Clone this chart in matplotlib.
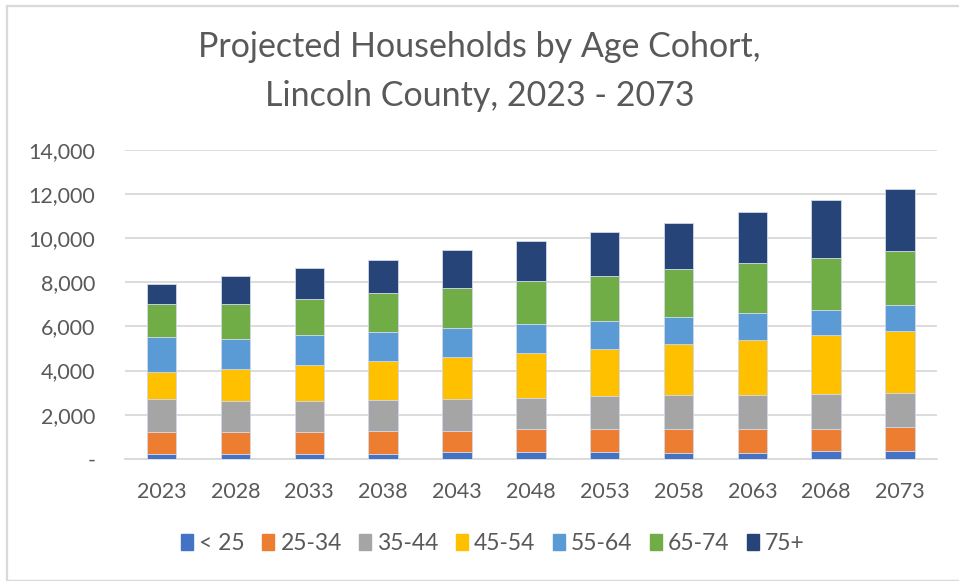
import matplotlib
matplotlib.use("Agg")
import matplotlib.pyplot as plt
import numpy as np
from matplotlib.lines import Line2D
from matplotlib.ticker import FuncFormatter

years = ["2023", "2028", "2033", "2038", "2043", "2048", "2053", "2058", "2063", "2068", "2073"]
cohorts = ["< 25", "25-34", "35-44", "45-54", "55-64", "65-74", "75+"]
colors = ["#4472C4", "#ED7D31", "#A5A5A5", "#FFC000", "#5B9BD5", "#70AD47", "#264478"]

under25 = [230, 230, 230, 230, 290, 290, 290, 260, 260, 330, 330]
age25_34 = [970, 970, 970, 1030, 970, 1045, 1045, 1105, 1105, 1030, 1090]
age35_44 = [1515, 1395, 1395, 1395, 1455, 1440, 1500, 1515, 1515, 1575, 1575]
age45_54 = [1210, 1470, 1650, 1760, 1895, 2015, 2120, 2305, 2485, 2665, 2790]
age55_64 = [1590, 1365, 1365, 1335, 1320, 1320, 1285, 1225, 1225, 1165, 1165]
age65_74 = [1500, 1590, 1650, 1760, 1820, 1940, 2045, 2180, 2290, 2350, 2470]
age75p = [910, 1275, 1395, 1515, 1695, 1820, 2000, 2105, 2300, 2605, 2790]

series = [under25, age25_34, age35_44, age45_54, age55_64, age65_74, age75p]

plt.rcParams['font.family'] = ['Lato', 'DejaVu Sans']
text_color = "#595959"

fig = plt.figure(figsize=(9.59, 5.81), dpi=100)
ax = fig.add_axes([0.130, 0.2105, 0.847, 0.5313])

x = np.arange(len(years))
bottom = np.zeros(len(years))
for name, vals, c in zip(cohorts, series, colors):
    ax.bar(x, vals, width=0.40, bottom=bottom, color=c, label=name,
           edgecolor="#d0d8e8", linewidth=0.6, zorder=3)
    bottom += np.array(vals)

ax.set_xlim(-0.5, len(years) - 0.5)
ax.set_ylim(0, 14000)
ax.set_yticks(np.arange(0, 14001, 2000))
ax.yaxis.set_major_formatter(FuncFormatter(lambda v, p: "-" if v == 0 else f"{int(v):,}"))
ax.set_xticks(x)
ax.set_xticklabels(years)
ax.grid(axis="y", color="#d9d9d9", linewidth=1.3, zorder=0)
for s in ["top", "right", "left"]:
    ax.spines[s].set_visible(False)
ax.spines["bottom"].set_color("#d9d9d9")
ax.spines["bottom"].set_linewidth(1.3)
ax.tick_params(axis="both", length=0, colors=text_color, labelsize=15.5)
ax.tick_params(axis="y", pad=21)
ax.tick_params(axis="x", pad=16.5)

fig.text(0.5, 0.877, "Projected Households by Age Cohort,\nLincoln County, 2023 - 2073",
         ha="center", va="center", fontsize=24.5, color=text_color, linespacing=1.68)

handles = [plt.Rectangle((0, 0), 1, 1, color=c) for c in colors]
fig.legend(handles, cohorts, loc="center", bbox_to_anchor=(0.514, 0.065), ncol=7,
           frameon=False, fontsize=16.5, labelcolor=text_color,
           handlelength=0.52, handleheight=0.7, handletextpad=0.28, columnspacing=0.75)

# chart border
bc = "#d9d9d9"
fig.add_artist(Line2D([6.5 / 959, 6.5 / 959], [1 - 5.5 / 581, 1 - 580 / 581], transform=fig.transFigure, color=bc, lw=1.6))
fig.add_artist(Line2D([6.5 / 959, 1.0], [1 - 5.5 / 581, 1 - 5.5 / 581], transform=fig.transFigure, color=bc, lw=1.6))
fig.add_artist(Line2D([6.5 / 959, 1.0], [1 - 580 / 581, 1 - 580 / 581], transform=fig.transFigure, color=bc, lw=1.0))

fig.savefig("out.png", dpi=100, facecolor="white")
